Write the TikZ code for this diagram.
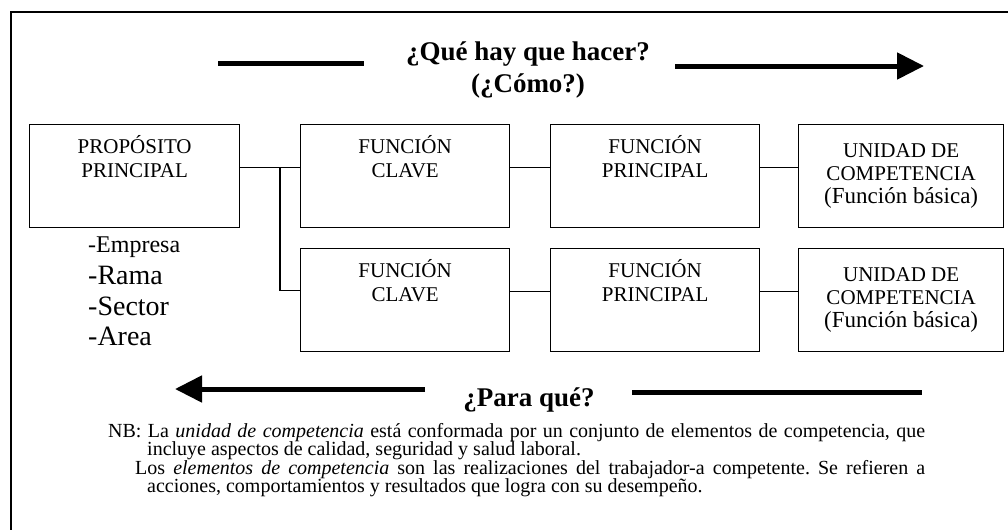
\documentclass[tikz,border=0pt]{standalone}
\usepackage{fontspec}
\setmainfont{Liberation Serif}
\usetikzlibrary{arrows.meta}
\frenchspacing

\begin{document}
\begin{tikzpicture}[x=1pt, y=-1pt]
      \tikzstyle{every node}=[inner sep=0pt]
      \tikzstyle{caja}=[draw, line width=1.3pt, anchor=north west,
        minimum width=209pt, minimum height=103pt]
      \tikzstyle{rotulo}=[align=center, anchor=base,
        font=\fontsize{21}{24}\selectfont]
      \tikzstyle{grande}=[anchor=base, font=\bfseries\fontsize{27}{32}\selectfont]
      \tikzstyle{lista}=[anchor=base west, font=\fontsize{28}{32}\selectfont]
      \tikzstyle{nota}=[anchor=base west, font=\fontsize{20}{20}\selectfont]
      \tikzstyle{linea}=[line width=1.3pt]
      \tikzstyle{flecha}=[line width=5pt]

      \useasboundingbox (0,0) rectangle (1008,530);
      \draw[line width=1.2pt] (1008,12) -- (11,12) -- (11,530);

      % titulos
      \path (528,60) node[grande] (hacer) {¿Qué hay que hacer?};
      \path (528,92) node[grande] (como) {(¿Cómo?)};
      \path (529,406) node[grande] (para) {¿Para qué?};

      % flechas
      \coordinate (h1) at (218,63);
      \coordinate (h2) at (364,63);
      \coordinate (h3) at (675,66);
      \coordinate (h4) at (924,66);
      \draw[flecha] (h1) -- (h2);
      \draw[flecha, -{Triangle[length=27pt, width=26pt]}] (h3) -- (h4);
      \coordinate (p1) at (425,389);
      \coordinate (p2) at (175,389);
      \coordinate (p3) at (632,392);
      \coordinate (p4) at (922,392);
      \draw[flecha, -{Triangle[length=27pt, width=26pt]}] (p1) -- (p2);
      \draw[flecha] (p3) -- (p4);

      % proposito principal
      \path (29,124) node[caja, minimum width=210pt] (pp) {};
      \path ([yshift=-53pt]pp.north) node[rotulo] (tpp) {PROPÓSITO\\PRINCIPAL};
      \path (88,252) node[lista, font=\fontsize{24}{28}\selectfont] (lempresa) {-Empresa};
      \foreach \t/\y in {Rama/284, Sector/315, Area/345}
      {
        \path (88,\y) node[lista] (l\t) {-\t};
      }

      % filas de funciones
      \foreach \i/\y in {1/124, 2/248}
      {
        \path (300,\y) node[caja] (fc\i) {};
        \path (550,\y) node[caja] (fp\i) {};
        \path (798,\y) node[caja, minimum width=205pt] (uc\i) {};
        \path ([yshift=-53pt]fc\i.north) node[rotulo] (tfc\i) {FUNCIÓN\\CLAVE};
        \path ([yshift=-53pt]fp\i.north) node[rotulo] (tfp\i) {FUNCIÓN\\PRINCIPAL};
        \path ([yshift=-79pt]uc\i.north) node[rotulo, font=\fontsize{21}{23}\selectfont] (tuc\i)
          {UNIDAD DE\\COMPETENCIA\\{\fontsize{23}{23}\selectfont(Función básica)}};
        \draw[linea] ([yshift=9pt]fc\i.east) -- ([yshift=9pt]fp\i.west);
        \draw[linea] ([yshift=9pt]fp\i.east) -- ([yshift=9pt]uc\i.west);
      }

      \coordinate (j1) at ([xshift=-20pt, yshift=9pt]fc1.west);
      \draw[linea] ([yshift=9pt]pp.east) -- ([yshift=9pt]fc1.west);
      \draw[linea] (j1) |- ([yshift=10pt]fc2.west);

      % nota
      \path (108,437) node[nota] (nb1) {\makebox[817pt][s]{NB: La \textit{unidad de competencia} está conformada por un conjunto de elementos de competencia, que}};
      \path (147,455) node[nota] (nb2) {incluye aspectos de calidad, seguridad y salud laboral.};
      \path (135,474) node[nota] (nb3) {\makebox[790pt][s]{Los \textit{elementos de competencia} son las realizaciones del trabajador-a competente. Se refieren a}};
      \path (147,492) node[nota] (nb4) {acciones, comportamientos y resultados que logra con su desempeño.};
\end{tikzpicture}
\end{document}
